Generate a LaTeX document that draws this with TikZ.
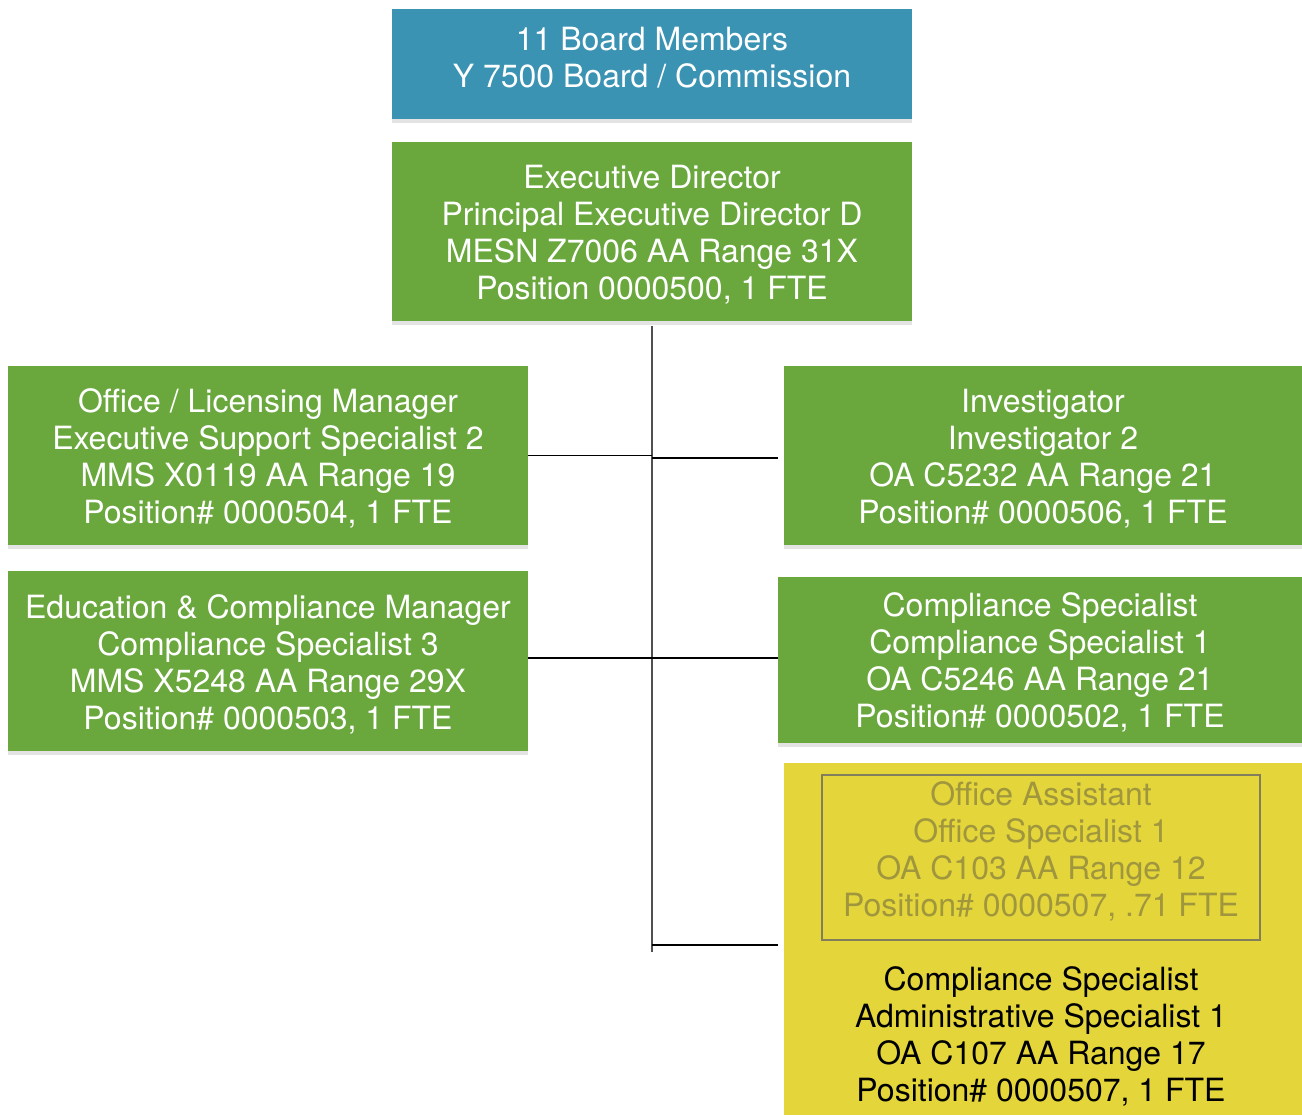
\documentclass[tikz,border=0pt]{standalone}
\usepackage{fontspec}
\setmainfont{TeX Gyre Heros}
\usetikzlibrary{shadows,calc}
\definecolor{boardblue}{RGB}{58,147,179}
\definecolor{boxgreen}{RGB}{106,168,62}
\definecolor{boxyellow}{RGB}{228,214,58}
\definecolor{innerline}{RGB}{128,126,92}
\definecolor{innertext}{RGB}{160,150,62}
\definecolor{trunkgray}{RGB}{80,80,80}
\begin{document}
\begin{tikzpicture}[x=1pt,y=-1pt,
  box/.style={rectangle, inner sep=0pt,
    drop shadow={opacity=0.22, shadow xshift=0pt, shadow yshift=-4pt}},
  greenbox/.style={box, fill=boxgreen},
  bluebox/.style={box, fill=boardblue},
  yellowbox/.style={box, fill=boxyellow},
  whitetext/.style={align=center, text=white, inner sep=0pt, font=\fontsize{32}{37}\selectfont},
  innerbox/.style={rectangle, draw=innerline, line width=2.5pt, inner sep=0pt},
  greytext/.style={align=center, text=innertext, inner sep=0pt, font=\fontsize{32}{37}\selectfont},
  plaintext/.style={align=center, text=black, inner sep=0pt, font=\fontsize{32}{37}\selectfont},
  link/.style={line width=1.3pt, draw=black},
  trunk/.style={line width=2.2pt, draw=trunkgray}]
\useasboundingbox (0,0) rectangle (1302,1115);
\fill[white] (0,0) rectangle (1302,1115);

\node[bluebox, minimum width=520pt, minimum height=110pt,
  label={[whitetext, yshift=6pt]center:{11 Board Members\\Y 7500 Board / Commission}}] (board) at (652,64) {};
\node[greenbox, minimum width=520pt, minimum height=179pt,
  label={[whitetext, yshift=-3pt]center:{Executive Director\\Principal Executive Director D\\MESN Z7006 AA Range 31X\\Position 0000500, 1 FTE}}] (ed) at (652,231.5) {};
\node[greenbox, minimum width=520pt, minimum height=179pt,
  label={[whitetext, yshift=-3pt]center:{Office / Licensing Manager\\Executive Support Specialist 2\\MMS X0119 AA Range 19\\Position\# 0000504, 1 FTE}}] (olm) at (268,455.5) {};
\node[greenbox, minimum width=518pt, minimum height=179pt,
  label={[whitetext, yshift=-3pt]center:{Investigator\\Investigator 2\\OA C5232 AA Range 21\\Position\# 0000506, 1 FTE}}] (inv) at (1043,455.5) {};
\node[greenbox, minimum width=520pt, minimum height=180pt,
  label={[whitetext, yshift=-3pt]center:{Education \& Compliance Manager\\Compliance Specialist 3\\MMS X5248 AA Range 29X\\Position\# 0000503, 1 FTE}}] (edu) at (268,661) {};
\node[greenbox, minimum width=524pt, minimum height=166pt,
  label={[whitetext, yshift=-2pt]center:{Compliance Specialist\\Compliance Specialist 1\\OA C5246 AA Range 21\\Position\# 0000502, 1 FTE}}] (comp) at (1040,660) {};
\node[yellowbox, minimum width=518pt, minimum height=362pt] (yel) at (1043,944) {};
\node[innerbox, minimum width=438pt, minimum height=165pt,
  label={[greytext, yshift=6pt]center:{Office Assistant\\Office Specialist 1\\OA C103 AA Range 12\\Position\# 0000507, .71 FTE}}] (oa) at (1041,857.5) {};
\node[plaintext] (cs) at (1041,1036)
  {Compliance Specialist\\Administrative Specialist 1\\OA C107 AA Range 17\\Position\# 0000507, 1 FTE};

\coordinate (top) at ($(ed.south)+(0,5)$);
\coordinate (bottom) at (652,952);
\coordinate (midrow) at (652,658);
\coordinate (yelin) at (778,945);
\draw[trunk] (top) -- (bottom);
\draw[link] (olm.east) -- (olm.east -| top);
\draw[link] ($(inv.west)+(-6,2.5)$) -- (top |- {$(inv.west)+(0,2.5)$});
\draw[link] (edu.east |- midrow) -- (comp.west |- midrow);
\draw[link] (yelin) -- (yelin -| top);
\end{tikzpicture}
\end{document}
